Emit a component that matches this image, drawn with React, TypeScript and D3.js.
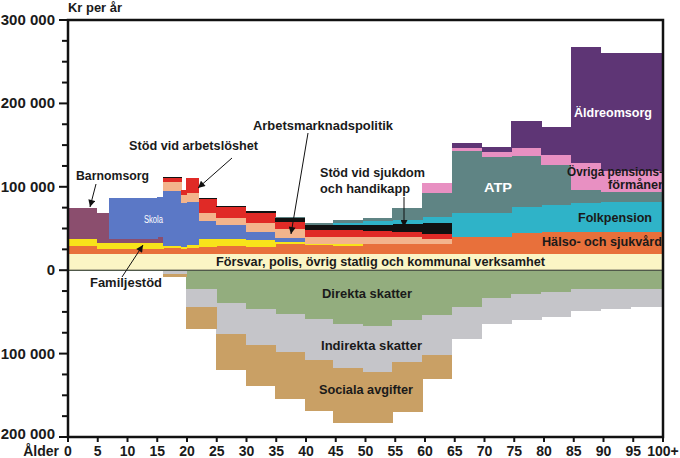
import React from "react";
import * as d3 from "d3";

// Age bins (start age of each step); last bin ends at 100+
const binStart = [0, 4.8, 6.9, 15, 16, 19, 19.9, 22, 24.9, 29.9, 34.8, 39.8, 44.5, 49.5, 54.5, 59.5, 64.5, 69.5, 74.5, 79.5, 84.5, 89.5, 94.5];
const ageMax = 100;

// Values in thousands of kronor per year
const forsvar = [20, 20, 20, 20, 20, 20, 20, 20, 20, 20, 20, 20, 20, 20, 20, 20, 20, 20, 20, 20, 20, 20, 20];
const halso = [9, 5, 5, 5, 7, 6, 7, 8, 9, 8, 11, 10, 9, 11, 12, 11, 20, 20, 25, 26, 26, 26, 26];
const familj = [9, 8, 8, 8, 2, 2, 3, 9, 9, 8, 3, 2, 2, 0.5, 0, 0, 0, 0, 0, 0, 0, 0, 0];
const barnomsorg = [37, 35, 4, 7, 0, 0, 0, 0, 0, 0, 0, 0, 0, 0, 0, 0, 0, 0, 0, 0, 0, 0, 0];
const skola = [0, 0, 49, 48, 66, 52, 52, 22, 16, 10, 5, 0, 0, 0, 0, 0, 0, 0, 0, 0, 0, 0, 0];
const arbmark = [0, 0, 0, 0, 11, 10, 11, 9, 8, 10, 10, 8, 9, 8, 8, 7, 0, 0, 0, 0, 0, 0, 0];
const arbloshet = [0, 0, 0, 0, 5, 6, 17, 17, 14, 12, 9, 8, 8, 7, 6, 6, 0, 0, 0, 0, 0, 0, 0];
const sjukdom = [0, 0, 0, 0, 1, 0, 1, 1, 1, 3, 4, 6, 6, 8, 9, 13, 0, 0, 0, 0, 0, 0, 0];
const folkpension = [0, 0, 0, 0, 0, 0, 0, 0, 0, 0, 0, 0, 2, 4, 5, 7, 29, 29, 31, 32, 34, 36, 36];
const atp = [0, 0, 0, 0, 0, 0, 0, 0, 0, 0, 2, 3, 4, 4, 14, 29, 74, 67, 61, 48, 16, 12, 12];
const ovriga = [0, 0, 0, 0, 0, 0, 0, 0, 0, 0, 0, 0, 0, 0, 1, 12, 4, 6, 9, 12, 32, 25, 25];
const aldreomsorg = [0, 0, 0, 0, 0, 0, 0, 0, 0, 0, 0, 0, 0, 0, 0, 0, 5, 6, 33, 34, 140, 141, 141];
const direkta = [1.5, 0.8, 0.8, 1, 0.5, 0.5, 22, 22, 39, 47, 53, 58, 64, 67, 60, 54, 44, 33, 28, 26, 23, 22, 22];
const indirekta = [0, 0, 0, 0, 4, 4, 22, 22, 37, 43, 45, 50, 53, 55, 50, 48, 38, 31, 32, 30, 26, 25, 22];
const sociala = [0, 0, 0, 0, 4, 4, 27, 27, 44, 49, 56, 61, 66, 61, 60, 28, 0, 0, 0, 0, 0, 0, 0];

const xTickValues = d3.range(0, 101, 5);
const yMajorValues = d3.range(-200, 301, 100);
const yMinorValues = d3.range(-200, 301, 25);

const keys = [
  "forsvar", "halso", "familj", "barnomsorg", "skola", "arbmark", "arbloshet",
  "sjukdom", "folkpension", "atp", "ovriga", "aldreomsorg",
  "direkta", "indirekta", "sociala",
];

const colors: Record<string, string> = {
  forsvar: "#fbf5c5",
  halso: "#e8703b",
  familj: "#f8e31a",
  barnomsorg: "#8b4e6e",
  skola: "#5b78c6",
  arbmark: "#f3b48c",
  arbloshet: "#e02a26",
  sjukdom: "#111111",
  folkpension: "#2fb3c8",
  atp: "#5f8484",
  ovriga: "#e890c2",
  aldreomsorg: "#5e3575",
  direkta: "#93ad7e",
  indirekta: "#c5c5c9",
  sociala: "#c9a065",
};

const FONT = "'Liberation Sans', Arial, sans-serif";

export default function App() {
  const W = 680, H = 458;
  const x = d3.scaleLinear().domain([0, 100]).range([68, 663]);
  const y = d3.scaleLinear().domain([-200, 300]).range([437, 20]);

  const rows = binStart.map((s, i) => ({
    start: s,
    end: i < binStart.length - 1 ? binStart[i + 1] : ageMax,
    forsvar: forsvar[i], halso: halso[i], familj: familj[i], barnomsorg: barnomsorg[i],
    skola: skola[i], arbmark: arbmark[i], arbloshet: arbloshet[i], sjukdom: sjukdom[i],
    folkpension: folkpension[i], atp: atp[i], ovriga: ovriga[i], aldreomsorg: aldreomsorg[i],
    direkta: -direkta[i], indirekta: -indirekta[i], sociala: -sociala[i],
  }));

  const layers = d3.stack<any>().keys(keys).offset(d3.stackOffsetDiverging)(rows);

  const fmt = (v: number) => (v === 0 ? "0" : `${Math.abs(v)} 000`);

  const label = (t: string, px: number, py: number, len: number, opts: any = {}) => (
    <text
      x={px}
      y={py}
      fontFamily={FONT}
      fontWeight={opts.weight || "bold"}
      fontSize={opts.size || 13}
      fill={opts.fill || "#1a1a1a"}
      textAnchor={opts.anchor || "start"}
      textLength={len}
      lengthAdjust="spacingAndGlyphs"
    >
      {t}
    </text>
  );

  return (
    <svg width={W} height={H} style={{ position: "absolute", left: 0, top: 0, background: "#fff" }}>
      <defs>
        <marker id="ah" viewBox="0 0 10 10" refX="10" refY="5" markerWidth="8" markerHeight="7" markerUnits="userSpaceOnUse" orient="auto">
          <path d="M0,0L10,5L0,10z" fill="#111" />
        </marker>
      </defs>
      <g shapeRendering="crispEdges">
        {layers.map((layer) => (
          <g key={layer.key} fill={colors[layer.key]}>
            {layer.map((d: any, i: number) => {
              const y0 = y(d[0]), y1 = y(d[1]);
              const h = Math.abs(y0 - y1);
              if (h <= 0) return null;
              return (
                <rect
                  key={i}
                  x={x(d.data.start)}
                  width={x(d.data.end) - x(d.data.start) + 0.5}
                  y={Math.min(y0, y1)}
                  height={h}
                />
              );
            })}
          </g>
        ))}
      </g>
      {/* zero line */}
      <line x1={x(0)} x2={x(100)} y1={y(0)} y2={y(0)} stroke="#333" strokeWidth={1} />
      {/* frame */}
      <rect x={x(0)} y={y(300)} width={x(100) - x(0)} height={y(-200) - y(300)} fill="none" stroke="#111" strokeWidth={2.5} />
      {/* y ticks */}
      {yMinorValues.map((v) => (
        <line key={"ym" + v} x1={x(0) - (v % 100 === 0 ? 9 : 6)} x2={x(0)} y1={y(v)} y2={y(v)} stroke="#111" strokeWidth={2} />
      ))}
      {yMajorValues.map((v) => (
        <text key={"yl" + v} x={55} y={y(v) + (v === -200 ? 2 : 5)} textAnchor="end" fontFamily={FONT} fontWeight="bold" fontSize={15} fill="#1a1a1a">
          {fmt(v)}
        </text>
      ))}
      {/* x ticks */}
      {xTickValues.map((v) => (
        <g key={"x" + v}>
          <line x1={x(v)} x2={x(v)} y1={y(-200)} y2={y(-200) + 5} stroke="#111" strokeWidth={2} />
          <text x={x(v)} y={456} textAnchor="middle" fontFamily={FONT} fontWeight="bold" fontSize={14} fill="#1a1a1a">
            {v === 100 ? "100+" : v}
          </text>
        </g>
      ))}
      <text x={59} y={456} textAnchor="end" fontFamily={FONT} fontWeight="bold" fontSize={14} fill="#1a1a1a">Ålder</text>
      {label("Kr per år", 68, 12, 54)}

      {/* series labels */}
      {label("Barnomsorg", 76, 180, 73)}
      {label("Skola", 144, 223, 19, { size: 10, weight: "normal", fill: "#fff" })}
      {label("Stöd vid arbetslöshet", 129, 150, 129)}
      {label("Arbetsmarknadspolitik", 253, 130, 140)}
      {label("Stöd vid sjukdom", 320, 177, 105)}
      {label("och handikapp", 320, 193, 90)}
      {label("Familjestöd", 90, 287, 72)}
      {label("Försvar, polis, övrig statlig och kommunal verksamhet", 216, 266, 329)}
      {label("Direkta skatter", 322, 298, 90)}
      {label("Indirekta skatter", 321, 350, 101)}
      {label("Sociala avgifter", 319, 394, 94)}
      {label("ATP", 484, 192, 28, { fill: "#fff" })}
      {label("Äldreomsorg", 574, 117, 78, { fill: "#fff" })}
      {label("Övriga pensions-", 567, 176, 96, { size: 12 })}
      {label("förmåner", 608, 189, 55, { size: 12 })}
      {label("Folkpension", 578, 222, 74)}
      {label("Hälso- och sjukvård", 542, 246, 120)}

      {/* arrows */}
      <g stroke="#111" strokeWidth={1} fill="none">
        <line x1={96} y1={184} x2={90} y2={207} markerEnd="url(#ah)" />
        <line x1={232} y1={158} x2={198} y2={188} markerEnd="url(#ah)" />
        <line x1={308} y1={133} x2={291} y2={234} markerEnd="url(#ah)" />
        <line x1={404} y1={197} x2={404} y2={227} markerEnd="url(#ah)" />
        <line x1={122} y1={277} x2={143} y2={245} markerEnd="url(#ah)" />
      </g>
    </svg>
  );
}
